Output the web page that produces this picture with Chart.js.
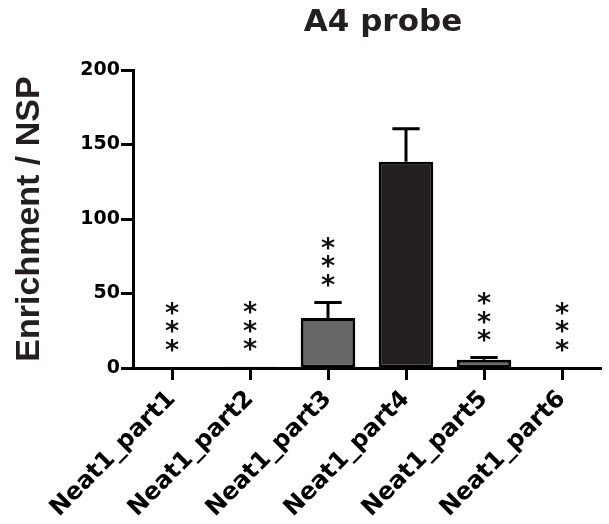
<!DOCTYPE html>
<html>
<head>
<meta charset="utf-8">
<script src="https://cdn.jsdelivr.net/npm/chart.js@4.4.1/dist/chart.umd.min.js"></script>
<style>
html,body{margin:0;padding:0;background:#fff;}
#c{display:block;}
</style>
</head>
<body>
<canvas id="c" width="609" height="524"></canvas>
<script>
const categories = ['Neat1_part1','Neat1_part2','Neat1_part3','Neat1_part4','Neat1_part5','Neat1_part6'];
const meanValues = [0.4, 0.8, 33.5, 138.5, 5.5, 0.3];
const errorValues = [0.1, 0.2, 10.5, 22, 1.5, 0.1];
const significance = ['***','***','***','','***','***'];
const barColors = ['#6a6a6a','#6a6a6a','#676767','#231f20','#676767','#6a6a6a'];
const yTicks = [0, 50, 100, 150, 200];
const chartTitle = 'A4 probe';
const yTitle = 'Enrichment / NSP';

const overlay = {
  id: 'overlay',
  afterDatasetsDraw(chart) {
    const ctx = chart.ctx;
    const ys = chart.scales.y;
    const meta = chart.getDatasetMeta(0);
    ctx.save();
    meta.data.forEach((bar, i) => {
      const top = ys.getPixelForValue(meanValues[i] + errorValues[i]);
      // error bar (upper only)
      if (errorValues[i] > 1) {
        ctx.strokeStyle = '#000';
        ctx.lineWidth = 3;
        ctx.beginPath();
        ctx.moveTo(bar.x, bar.y);
        ctx.lineTo(bar.x, top);
        ctx.moveTo(bar.x - bar.width / 4, top);
        ctx.lineTo(bar.x + bar.width / 4, top);
        ctx.stroke();
      }
      // significance stars
      const s = significance[i];
      if (s) {
        ctx.fillStyle = '#111';
        ctx.font = 'bold 27px "DejaVu Sans"';
        ctx.textAlign = 'center';
        ctx.textBaseline = 'alphabetic';
        const m = ctx.measureText('*');
        const off = (m.actualBoundingBoxAscent - m.actualBoundingBoxDescent) / 2;
        for (let k = 0; k < s.length; k++) {
          const cy = top - 22 - k * 18.5;
          ctx.fillText(s[k], bar.x, cy + off);
        }
      }
    });
    // chart title
    const ca = chart.chartArea;
    ctx.fillStyle = '#231f20';
    ctx.font = 'bold 31px "DejaVu Sans"';
    ctx.textAlign = 'center';
    ctx.textBaseline = 'middle';
    ctx.fillText(chartTitle, (ca.left + ca.right) / 2 + 16, 23);
    ctx.restore();
  }
};

new Chart(document.getElementById('c'), {
  type: 'bar',
  data: {
    labels: categories,
    datasets: [{
      data: meanValues,
      backgroundColor: barColors,
      borderColor: '#000',
      borderWidth: 3,
      borderSkipped: false,
      barPercentage: 0.70,
      categoryPercentage: 1.0
    }]
  },
  options: {
    responsive: false,
    animation: false,
    devicePixelRatio: 1,
    layout: { padding: { left: 0, right: 8, top: 70, bottom: 0 } },
    plugins: { legend: { display: false }, tooltip: { enabled: false }, title: { display: false } },
    scales: {
      x: {
        offset: true,
        grid: { display: true, drawOnChartArea: false, tickLength: 12, tickWidth: 3, tickColor: '#000', offset: false },
        border: { display: true, color: '#000', width: 3 },
        ticks: {
          color: '#000',
          font: { family: 'DejaVu Sans', weight: 'bold', size: 24 },
          minRotation: 45,
          maxRotation: 45,
          padding: 5,
          autoSkip: false
        },
        afterFit(scale) { scale.height = 524 - 368; }
      },
      y: {
        min: 0,
        max: 200,
        afterBuildTicks(scale) { scale.ticks = yTicks.map(v => ({ value: v })); },
        grid: { display: true, drawOnChartArea: false, tickLength: 12, tickWidth: 3, tickColor: '#000' },
        border: { display: true, color: '#000', width: 3 },
        ticks: {
          color: '#000',
          font: { family: 'DejaVu Sans', weight: 'bold', size: 19 },
          padding: 1
        },
        title: {
          display: true,
          text: yTitle,
          color: '#231f20',
          font: { family: 'Liberation Sans', weight: 'bold', size: 34 },
          padding: { top: 9, bottom: 0 }
        },
        afterFit(scale) { scale.width = 133; }
      }
    }
  },
  plugins: [overlay]
});
</script>
</body>
</html>
